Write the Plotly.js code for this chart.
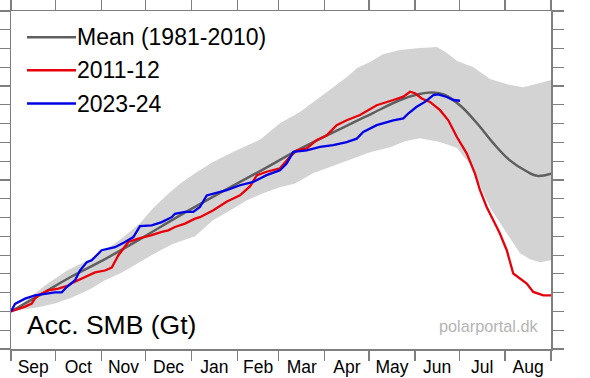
<!DOCTYPE html>
<html>
<head>
<meta charset="utf-8">
<script src="https://cdn.plot.ly/plotly-3.0.1.min.js"></script>
<style>
html,body{margin:0;padding:0;background:#fff;}
#chart{width:590px;height:378px;}
</style>
</head>
<body>
<div id="chart"></div>
<script>
// Day of season (0 = 1 Sep) and accumulated SMB (Gt)
var meanDay = [0,20,40,62,87,114,141,168,195,222,243,263,276,285,293,304,315,326,337,349,356,365];
var meanGt  = [0,45,91,136,192,255,315,373,432,485,525,563,579,583,577,547,501,448,403,372,361,367];

var bandUpDay = [0,9.5,23,37.9,52,63.5,75,87.2,96,105.4,114.2,124.4,136.5,151.4,168.3,181.8,195.3,204.1,215.6,227.1,233.9,242.7,251.4,262.9,274.4,287.9,294.7,301.5,312.3,323.8,335.3,346.1,357.6,365];
var bandUpGt  = [0,27,69,109,136,163,195,235,275,310,340,368,398,427,457,501,531,557,589,624,648,664,685,696,701,704,688,667,651,619,605,597,608,616];

var bandLoDay = [0,18.2,29.7,41.2,53.4,63.5,75,85.8,97.3,108.8,124.4,136.5,148,159.5,171.7,181.8,192,204.1,215.6,227.1,233.9,242.7,256.2,266.3,276.4,290,301.5,306.9,311.6,315.6,320.4,325.1,330.5,337.3,344.1,350.8,357.6,365];
var bandLoGt  = [0,11,21,37,59,83,104,128,155,179,200,243,269,296,317,331,341,368,384,403,411,424,437,453,461,451,435,408,389,349,304,269,237,195,155,139,131,136];

var y2012Day = [0,6.1,9.5,14,16.2,18.5,25.2,32,38.7,41,50,56.8,63.5,68.1,72.5,79.3,86,95.1,101.9,106.3,110.8,117.6,124.4,127.7,136.5,146,154.8,161.5,166.3,172.8,181.8,188.6,193.1,199.9,206.6,213.4,220.1,226.9,235.9,247.2,258.4,265.2,269.7,273.1,277.6,283.2,290,295.6,301.3,308,313.6,317,321.5,323.8,328.3,330.5,335.1,339.5,344,348.6,353,359.8,365];
var y2012Gt  = [0,8,13,21,35,43,56,61,69,75,91,104,109,117,149,185,194,203,212,216,225,234,247,251,269,293,309,333,363,372,381,412,429,434,456,469,496,509,523,549,563,572,585,581,567,558,536,509,465,421,367,323,278,261,225,207,163,101,87,74,52,43,43];

var y2024Day = [0,2.7,9.5,16.2,23,29.7,34.3,37.6,43.3,46.6,51.2,54.5,61.3,70.3,77.1,82.7,87.2,95.1,101.9,108.6,110.8,117.6,123.2,127.7,132.3,136.7,145.8,154.8,163.8,168.3,172.8,181.8,186.3,190.8,199.9,208.9,217.8,226.9,233.7,238.1,247.2,258.4,265.2,268.5,274.2,279.8,285.5,288.8,294.5,299,303.5];
var y2024Gt  = [0,20,34,43,47,51,51,65,83,109,131,136,163,171,185,198,227,229,238,251,260,265,265,278,309,314,323,336,345,354,363,376,394,425,429,438,443,451,460,478,496,509,514,527,545,558,576,578,571,563,561];

var monthTicks = ['Sep','Oct','Nov','Dec','Jan','Feb','Mar','Apr','May','Jun','Jul','Aug'];

var seriesNames = ['Mean (1981-2010)','2011-12','2023-24'];
var seriesColors = ['#5f5f5f','#e8000b','#0000e6'];

var start = Date.UTC(2022,8,1);
function toDate(d){ return new Date(start + d*86400000).toISOString(); }
function dates(arr){ return arr.map(toDate); }

var bandX = dates(bandUpDay).concat(dates(bandLoDay.slice().reverse()));
var bandY = bandUpGt.concat(bandLoGt.slice().reverse());

// month boundaries and mid points (days from 1 Sep)
var monthLen = [30,31,30,31,31,28,31,30,31,30,31,31];
var bounds = [0], mids = [];
for (var m=0;m<12;m++){ mids.push(bounds[m] + monthLen[m]/2); bounds.push(bounds[m] + monthLen[m]); }

var traces = [
  {x: bandX, y: bandY, type:'scatter', mode:'lines', fill:'toself', fillcolor:'#d3d3d3',
   line:{width:0, color:'#d3d3d3'}, showlegend:false, hoverinfo:'skip'},
  {x: dates(meanDay), y: meanGt, type:'scatter', mode:'lines', name: seriesNames[0],
   line:{color:seriesColors[0], width:2.5, shape:'spline'}, showlegend:false},
  {x: dates(y2012Day), y: y2012Gt, type:'scatter', mode:'lines', name: seriesNames[1],
   line:{color:seriesColors[1], width:2.3}, showlegend:false},
  {x: dates(y2024Day), y: y2024Gt, type:'scatter', mode:'lines', name: seriesNames[2],
   line:{color:seriesColors[2], width:2.3}, showlegend:false}
];

var fontFam = '"Liberation Sans", Arial, Helvetica, sans-serif';
var axCol = '#7f7f7f';

// custom legend
var shapes = [], annos = [];
var legY = [37.3, 70.3, 103.5];
function px2x(p){ return (p-11)/540; }
function px2y(p){ return (349-p)/338; }
for (var i=0;i<3;i++){
  shapes.push({type:'line', xref:'paper', yref:'paper', x0:px2x(27), x1:px2x(76),
    y0:px2y(legY[i]), y1:px2y(legY[i]), line:{color:seriesColors[i], width:2.5}});
  annos.push({xref:'paper', yref:'paper', x:px2x(75), y:px2y(legY[i]), xanchor:'left', yanchor:'middle',
    text: seriesNames[i], showarrow:false, font:{family:fontFam, size:23, color:'#000'}});
}
annos.push({xref:'paper', yref:'paper', x:px2x(25), y:px2y(325), xanchor:'left', yanchor:'middle',
  text:'Acc. SMB (Gt)', showarrow:false, font:{family:fontFam, size:26.5, color:'#000'}});
annos.push({xref:'paper', yref:'paper', x:px2x(541), y:px2y(326), xanchor:'right', yanchor:'middle',
  text:'polarportal.dk', showarrow:false, font:{family:fontFam, size:16.3, color:'#b4b4b4'}});

var layout = {
  width:590, height:378,
  margin:{l:11, r:39, t:11, b:29, pad:0},
  paper_bgcolor:'#fff', plot_bgcolor:'#fff',
  showlegend:false,
  font:{family:fontFam, color:'#000'},
  xaxis:{
    type:'date', range:[toDate(0), toDate(365)],
    tickmode:'array', tickvals: dates(mids), ticktext: monthTicks,
    ticks:'', ticklen:0, ticklabelstandoff:1,
    showline:true, linecolor:axCol, linewidth:1.5, mirror:true,
    showgrid:false, zeroline:false,
    tickfont:{family:fontFam, size:17.5, color:'#000'}
  },
  xaxis2:{
    type:'date', overlaying:'x', matches:'x', side:'bottom',
    range:[toDate(0), toDate(365)],
    tickmode:'array', tickvals: dates(bounds),
    ticks:'outside', ticklen:11, tickwidth:1.3, tickcolor:axCol,
    showticklabels:false, showline:false, mirror:'ticks',
    showgrid:false, zeroline:false
  },
  yaxis:{
    range:[-100,800], tick0:0, dtick:200,
    ticks:'outside', ticklen:11, tickwidth:1.3, tickcolor:axCol,
    showticklabels:false,
    minor:{dtick:50, ticks:'outside', ticklen:5, tickwidth:1.1, tickcolor:axCol, showgrid:false},
    showline:true, linecolor:axCol, linewidth:1.5, mirror:'allticks',
    showgrid:false, zeroline:false
  },
  shapes: shapes,
  annotations: annos
};

// invisible trace to activate xaxis2
traces.push({x:[toDate(0)], y:[0], xaxis:'x2', yaxis:'y', type:'scatter', mode:'markers',
  marker:{opacity:0}, showlegend:false, hoverinfo:'skip'});

Plotly.newPlot('chart', traces, layout, {displayModeBar:false, staticPlot:true});
</script>
</body>
</html>
